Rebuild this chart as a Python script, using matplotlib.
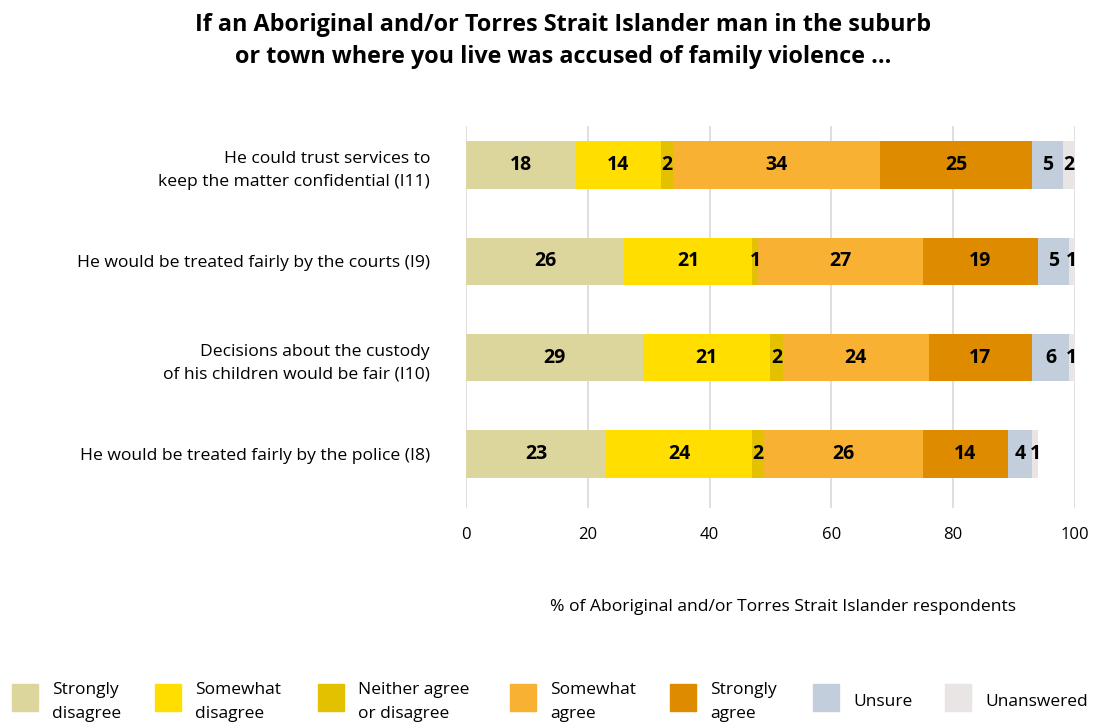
import matplotlib.pyplot as plt
from matplotlib.patches import Rectangle

# survey items, bottom to top
items = ['He would be treated fairly by the police (I8)',
         'Decisions about the custody\nof his children would be fair (I10)',
         'He would be treated fairly by the courts (I9)',
         'He could trust services to\nkeep the matter confidential (I11)']

responses = ['Strongly\ndisagree', 'Somewhat\ndisagree', 'Neither agree\nor disagree',
             'Somewhat\nagree', 'Strongly\nagree', 'Unsure', 'Unanswered']

strongly_disagree = [23, 29, 26, 18]
somewhat_disagree = [24, 21, 21, 14]
neither = [2, 2, 1, 2]
somewhat_agree = [26, 24, 27, 34]
strongly_agree = [14, 17, 19, 25]
unsure = [4, 6, 5, 5]
unanswered = [1, 1, 1, 2]

series = [strongly_disagree, somewhat_disagree, neither, somewhat_agree,
          strongly_agree, unsure, unanswered]
colors = ['#DDD69C', '#FFDE00', '#E3C000', '#F8B133', '#DE8B00', '#C3CEDD', '#E9E5E5']

xticks = [0, 20, 40, 60, 80, 100]

plt.rcParams['font.family'] = ['Open Sans', 'DejaVu Sans']

fig = plt.figure(figsize=(10.95, 7.25), dpi=100)
ax = fig.add_axes([0.4256, 0.2993, 0.556, 0.527])

ypos = list(range(len(items)))
left = [0] * len(items)
for vals, col in zip(series, colors):
    bars = ax.barh(ypos, vals, left=left, height=0.49, color=col, zorder=2)
    for b, v in zip(bars, vals):
        cx = b.get_x() + b.get_width() / 2
        ax.text(cx, b.get_y() + b.get_height() / 2, str(v), ha='center', va='center',
                fontsize=14, fontweight='bold', color='black', zorder=3)
    left = [l + v for l, v in zip(left, vals)]

ax.set_xlim(0, 100)
ax.set_ylim(-0.56, 3.405)
ax.set_xticks(xticks)
ax.set_xticklabels([str(t) for t in xticks], fontsize=12)
ax.set_yticks(ypos)
ax.set_yticklabels(items, fontsize=12.6, linespacing=1.6)
ax.tick_params(axis='x', length=0, pad=14)
ax.tick_params(axis='y', length=0, pad=26)
for lab in ax.get_yticklabels():
    lab.set_ha('right')
for s in ax.spines.values():
    s.set_visible(False)
ax.grid(axis='x', color='#D9D9D9', linewidth=1.2, zorder=0)
ax.set_axisbelow(True)

fig.text(0.715, 0.163, '% of Aboriginal and/or Torres Strait Islander respondents',
         ha='center', va='center', fontsize=12.6)

fig.text(0.514, 0.944, 'If an Aboriginal and/or Torres Strait Islander man in the suburb\n'
         'or town where you live was accused of family violence ...',
         ha='center', va='center', fontsize=16.8, fontweight='bold', linespacing=1.45)

# legend along the bottom
box_x = [12, 155, 318, 510, 670, 813, 945]
for bx, col, lab in zip(box_x, colors, responses):
    fig.patches.append(Rectangle((bx / 1095, 1 - 711 / 725), 26 / 1095, 27 / 725,
                                 transform=fig.transFigure, color=col))
    fig.text((bx + 40) / 1095, 1 - 702 / 725, lab, ha='left', va='center',
             fontsize=12.5, linespacing=1.7)

plt.savefig('out.png', dpi=100)
